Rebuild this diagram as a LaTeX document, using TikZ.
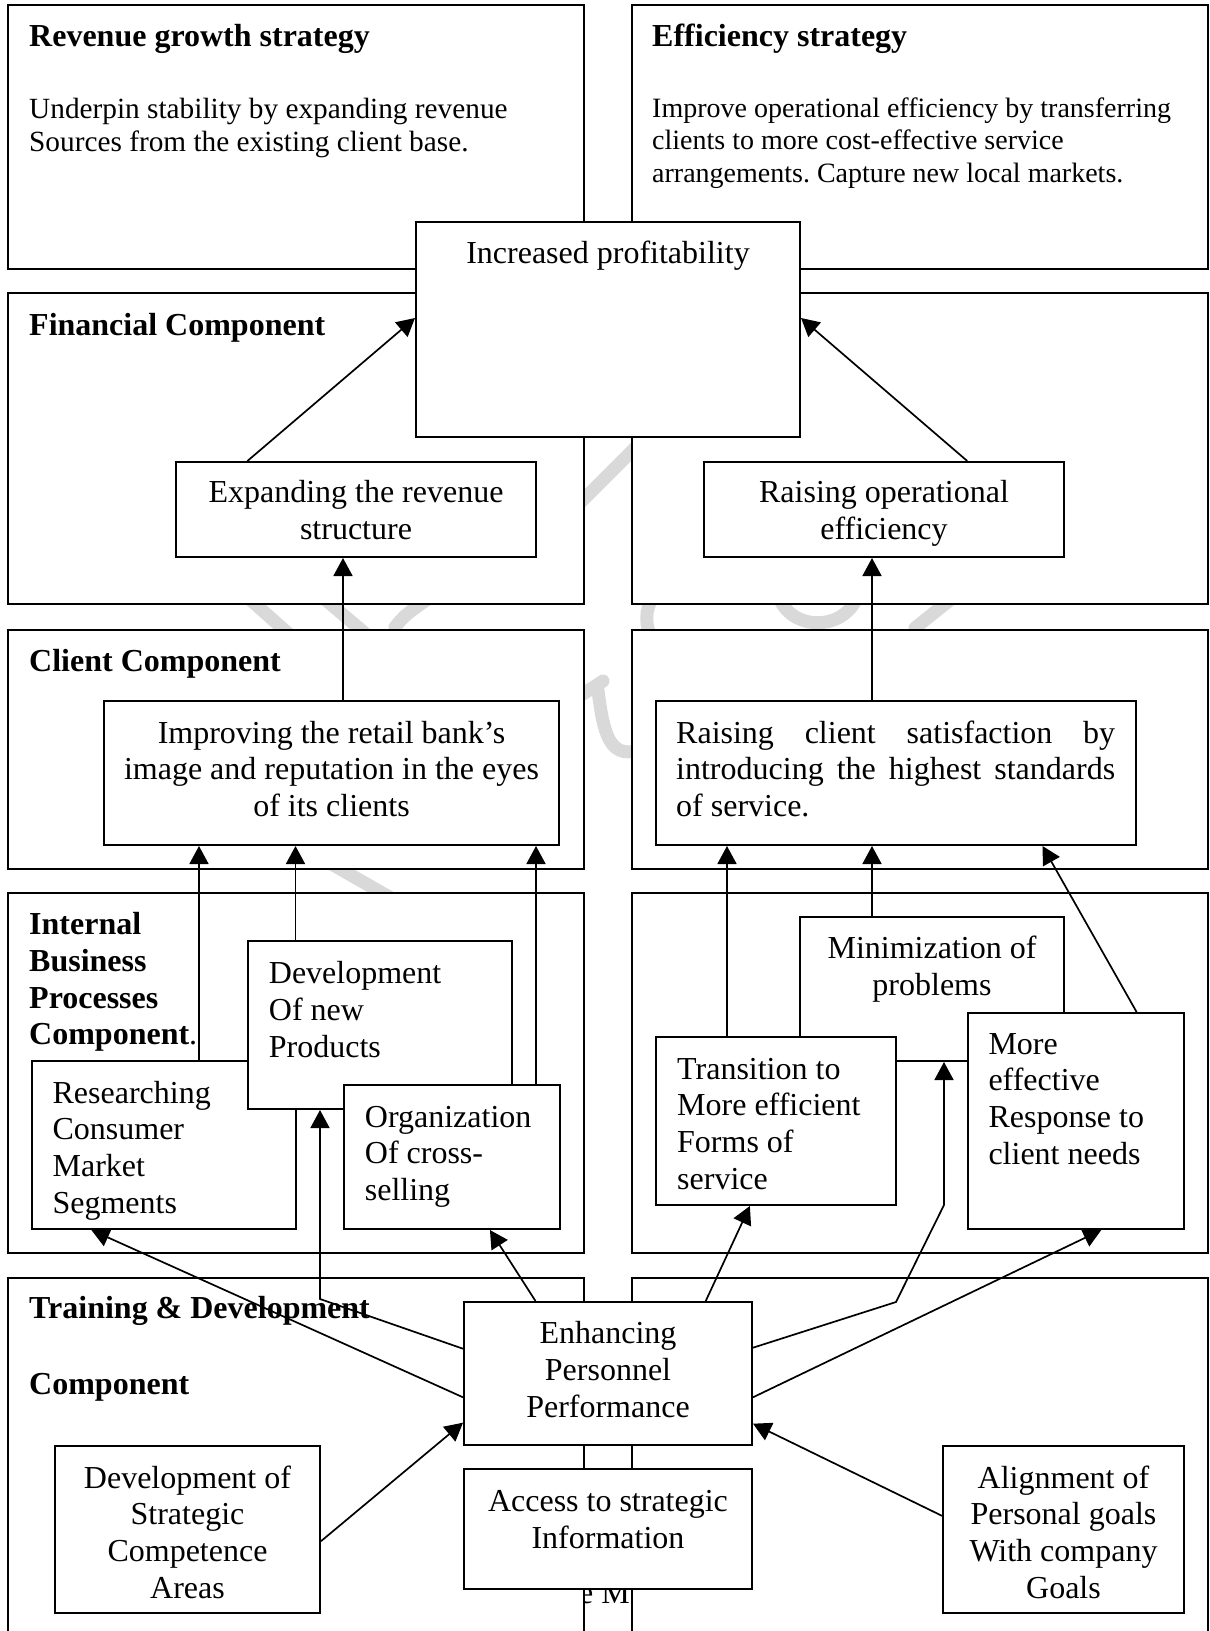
\documentclass[tikz,border=0pt]{standalone}
\usepackage{fontspec}
\setmainfont{Liberation Serif}
\usetikzlibrary{arrows.meta,fit,calc}
\frenchspacing

% type sizes
\newcommand\bodysize{\fontsize{32}{36.8}\selectfont}
\newcommand\noteLsize{\fontsize{29.3}{33.5}\selectfont}
\newcommand\noteRsize{\fontsize{28}{32.3}\selectfont}
% first-line-baseline text blocks
\newcommand\lefttext[1]{\parbox[t]{560pt}{\raggedright #1}}
\newcommand\midtext[1]{\parbox[t]{560pt}{\centering #1}}

\tikzset{
  panel/.style={draw, fill=white, line width=2pt, inner sep=0pt},
  stepbox/.style={draw, fill=white, line width=2pt, inner sep=0pt},
  arr/.style={line width=1.7pt, -{Triangle[length=18pt,width=19pt]}},
  lt/.style={inner sep=0pt, anchor=base west, font=\bodysize},
  ct/.style={inner sep=0pt, anchor=base, font=\bodysize},
  mark stroke/.style={draw=black!15, line width=13pt, line cap=round},
}

\begin{document}
\begin{tikzpicture}[x=1pt,y=-1pt]
\useasboundingbox (0,0) rectangle (1210,1631);
\begin{scope}
\clip (0,0) rectangle (1210,1631);

% faint background marks, seen only between the panels
\draw[mark stroke] (245,595) -- (290,635);
\draw[mark stroke] (320,595) -- (367,635);
\draw[mark stroke] (395,627) .. controls (405,615) .. (432,596);
\draw[mark stroke] (565,518) -- (655,428);
\draw[mark stroke] (583,694) -- (603,681);
\draw[mark stroke] (598,690) .. controls (604,740) and (612,768) .. (655,742);
\draw[mark stroke] (654,596) .. controls (644,610) and (645,626) .. (653,642);
\draw[mark stroke] (778,595) .. controls (790,632) and (845,632) .. (858,595);
\draw[mark stroke] (915,628) -- (950,600);
\draw[mark stroke] (328,862) -- (398,902);

% partly hidden text at the foot of the page
\node[inner sep=0pt, anchor=base east, font=\bodysize] (foot) at (630,1603) {e M};

% perspective panels
\node[panel, fit={(8,5) (584,269)}] (rev) {};
\node[panel, fit={(632,5) (1208,269)}] (eff) {};
\node[panel, fit={(8,293) (584,604)}] (finL) {};
\node[panel, fit={(632,293) (1208,604)}] (finR) {};
\node[panel, fit={(8,630) (584,869)}] (cliL) {};
\node[panel, fit={(632,630) (1208,869)}] (cliR) {};
\node[panel, fit={(8,893) (584,1253)}] (ibpL) {};
\node[panel, fit={(632,893) (1208,1253)}] (ibpR) {};
\node[panel, fit={(8,1278) (584,1670)}] (tdL) {};
\node[panel, fit={(632,1278) (1208,1670)}] (tdR) {};

% panel headings and strategy notes
\node[lt] (revT) at (29,46) {\textbf{Revenue growth strategy}};
\node[inner sep=0pt, anchor=base west, font=\noteLsize] (revN) at (29,118)
  {\lefttext{Underpin stability by expanding revenue\\Sources from the existing client base.}};
\node[lt] (effT) at (652,46) {\textbf{Efficiency strategy}};
\node[inner sep=0pt, anchor=base west, font=\noteRsize] (effN) at (652,117.5)
  {\lefttext{Improve operational efficiency by transferring\\clients to more cost-effective service\\arrangements. Capture new local markets.}};
\node[lt] (finT) at (29,335) {\textbf{Financial Component}};
\node[lt] (cliT) at (29,671.5) {\textbf{Client Component}};
\node[lt] (ibpT) at (29,934.5) {\lefttext{\textbf{Internal}\\\textbf{Business}\\\textbf{Processes}\\\textbf{Component}.}};
\node[lt] (tdT) at (29,1318.4) {\textbf{Training \& Development}};
\node[lt] (tdT2) at (29,1394.3) {\textbf{Component}};

% objective boxes
\node[stepbox, fit={(416,222) (800,437)}] (inc) {};
\node[stepbox, fit={(176,462) (536,557)}] (expand) {};
\node[stepbox, fit={(704,462) (1064,557)}] (raiseop) {};
\node[stepbox, fit={(104,701) (559,845)}] (improve) {};
\node[stepbox, fit={(656,701) (1136,845)}] (raisec) {};
\node[stepbox, fit={(32,1061) (296,1229)}] (research) {};
\node[stepbox, fit={(248,941) (512,1109)}] (devprod) {};
\node[stepbox, fit={(344,1085) (560,1229)}] (org) {};
\node[stepbox, fit={(800,917) (1064,1061)}] (minim) {};
\node[stepbox, fit={(656,1037) (896,1205)}] (trans) {};
\node[stepbox, fit={(968,1013) (1184,1229)}] (more) {};
\node[stepbox, fit={(464,1302) (752,1445)}] (enhance) {};
\node[stepbox, fit={(464,1469) (752,1589)}] (access) {};
\node[stepbox, fit={(55,1446) (320,1613)}] (devstrat) {};
\node[stepbox, fit={(943,1446) (1184,1613)}] (align) {};

% box texts
\node[ct] (incX) at (608,263) {Increased profitability};
\node[ct] (expandX) at (356,502.5) {\midtext{Expanding the revenue\\structure}};
\node[ct] (raiseopX) at (884,502.5) {\midtext{Raising operational\\efficiency}};
\node[ct] (improveX) at (331.5,743) {\midtext{Improving the retail bank’s\\image and reputation in the eyes\\of its clients}};
\node[lt] (raisecX) at (676,743) {\parbox[t]{439pt}{\makebox[439pt][s]{Raising client satisfaction by}\\\makebox[439pt][s]{introducing the highest standards}\\of service.}};
\node[lt] (researchX) at (52.4,1103) {\lefttext{Researching\\Consumer\\Market\\Segments}};
\node[lt] (devprodX) at (268.7,983.4) {\lefttext{Development\\Of new\\Products}};
\node[lt] (orgX) at (364.7,1127) {\lefttext{Organization\\Of cross-\\selling}};
\node[ct] (minimX) at (932,958.4) {\midtext{Minimization of\\problems}};
\node[lt] (transX) at (677,1079) {\lefttext{Transition to\\More efficient\\Forms of\\service}};
\node[lt] (moreX) at (988.3,1054) {\lefttext{More\\effective\\Response to\\client needs}};
\node[ct] (enhanceX) at (608,1343.4) {\midtext{Enhancing\\Personnel\\Performance}};
\node[ct] (accessX) at (608,1511.9) {\midtext{Access to strategic\\Information}};
\node[ct] (devstratX) at (187.5,1488) {\midtext{Development of\\Strategic\\Competence\\Areas}};
\node[ct] (alignX) at (1063.5,1488) {\midtext{Alignment of\\Personal goals\\With company\\Goals}};

% connector columns and bends
\coordinate (colA) at (343,0);
\coordinate (colB) at (872,0);
\coordinate (colR1) at (199,0);
\coordinate (colR2) at (295.5,0);
\coordinate (colR3) at (536,0);
\coordinate (colT) at (727,0);
\coordinate (bendD) at (320,1299);
\coordinate (bendE1) at (896,1302);
\coordinate (bendE2) at (944,1205);

% financial objectives -> profitability
\draw[arr] ($(expand.north west)!0.2!(expand.north east)$) -- ($(inc.north west)!0.447!(inc.south west)$);
\draw[arr] ($(raiseop.north west)!0.73!(raiseop.north east)$) -- ($(inc.north east)!0.447!(inc.south east)$);

% client -> financial
\draw[arr] (improve.north -| colA) -- (expand.south -| colA);
\draw[arr] (raisec.north -| colB) -- (raiseop.south -| colB);

% internal processes -> client
\draw[arr] (research.north -| colR1) -- (improve.south -| colR1);
\draw[arr] (devprod.north -| colR2) -- (improve.south -| colR2);
\draw[arr] (org.north -| colR3) -- (improve.south -| colR3);
\draw[arr] (trans.north -| colT) -- (raisec.south -| colT);
\draw[arr] (minim.north -| colB) -- (raisec.south -| colB);
\draw[arr] ($(more.north west)!0.778!(more.north east)$) -- ($(raisec.south west)!0.804!(raisec.south east)$);

% personnel performance -> internal processes
\draw[arr] ($(enhance.north west)!0.25!(enhance.north east)$) -- ($(org.south west)!0.674!(org.south east)$);
\draw[arr] ($(enhance.north west)!0.837!(enhance.north east)$) -- ($(trans.south west)!0.392!(trans.south east)$);
\draw[arr] ($(enhance.north west)!0.329!(enhance.south west)$) -- (bendD) -- (devprod.south -| bendD);
\draw[arr] ($(enhance.north west)!0.664!(enhance.south west)$) -- ($(research.south west)!0.227!(research.south east)$);
\draw[arr] ($(enhance.north east)!0.322!(enhance.south east)$) -- (bendE1) -- (bendE2) -- (minim.south -| bendE2);
\draw[arr] ($(enhance.north east)!0.664!(enhance.south east)$) -- ($(more.south west)!0.616!(more.south east)$);

% training inputs -> personnel performance
\draw[arr] ($(devstrat.north east)!0.569!(devstrat.south east)$) -- ($(enhance.north west)!0.839!(enhance.south west)$);
\draw[arr] ($(align.north west)!0.419!(align.south west)$) -- ($(enhance.north east)!0.846!(enhance.south east)$);

\end{scope}
\end{tikzpicture}
\end{document}
